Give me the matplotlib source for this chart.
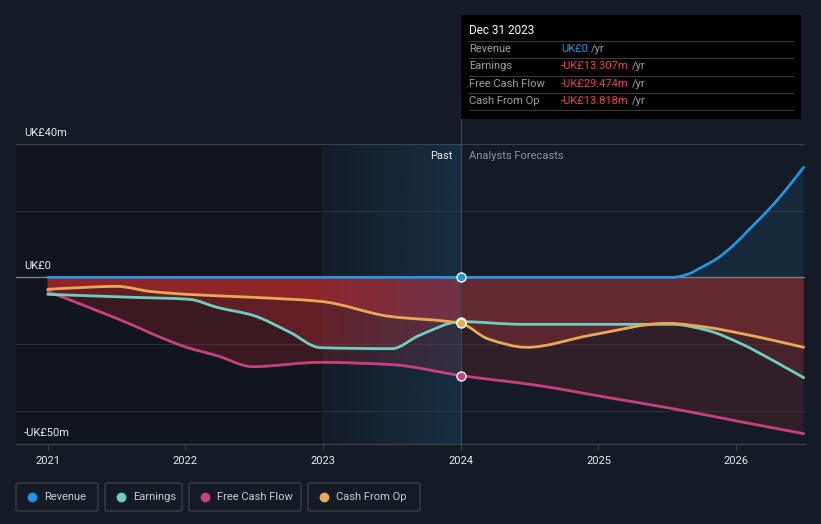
import numpy as np
import matplotlib
matplotlib.use("Agg")
import matplotlib.pyplot as plt
from matplotlib.patches import PathPatch, Rectangle, FancyBboxPatch
from matplotlib.path import Path
from matplotlib.lines import Line2D

plt.rcParams["font.family"] = ["Roboto", "DejaVu Sans"]

# Data (UK£ millions)
rev_x = [2021.0, 2024.0, 2025.54, 2025.66, 2025.73, 2025.86, 2025.98, 2026.10, 2026.22, 2026.34, 2026.49]
rev_y = [0.0, 0.0, 0.0, 1.1, 2.6, 5.6, 9.6, 14.6, 19.6, 25.2, 33.0]

earn_x = [2021.0, 2021.62, 2022.03, 2022.23, 2022.49, 2022.76, 2022.98, 2023.5, 2023.7, 2024.0,
          2024.45, 2025.54, 2025.79, 2026.03, 2026.27, 2026.49]
earn_y = [-5.1, -6.0, -6.6, -9.0, -11.4, -16.5, -21.1, -21.4, -17.4, -13.3,
          -14.1, -14.1, -15.9, -19.8, -25.0, -30.1]

fcf_x = [2021.0, 2021.5, 2022.01, 2022.23, 2022.49, 2022.98, 2023.5, 2024.0,
         2024.57, 2025.06, 2025.54, 2026.03, 2026.49]
fcf_y = [-4.2, -12.3, -21.0, -23.5, -26.8, -25.5, -26.2, -29.474,
         -32.5, -36.0, -39.4, -43.3, -46.9]

cfo_x = [2021.0, 2021.28, 2021.5, 2021.74, 2022.01, 2022.49, 2022.98, 2023.48, 2024.0,
         2024.2, 2024.48, 2024.94, 2025.5, 2025.79, 2026.03, 2026.27, 2026.49]
cfo_y = [-3.6, -3.0, -2.7, -4.2, -5.1, -6.0, -7.2, -11.7, -13.818,
         -18.5, -21.0, -17.4, -13.8, -15.0, -16.8, -18.9, -21.0]

years = [2021, 2022, 2023, 2024, 2025, 2026]
series_names = ["Revenue", "Earnings", "Free Cash Flow", "Cash From Op"]
tooltip_vals = ["UK£0", "-UK£13.307m", "-UK£29.474m", "-UK£13.818m"]

BG = "#151b24"
C_REV = "#2394df"
C_EARN = "#6fcfbf"
C_FCF = "#c8407f"
C_CFO = "#e8a855"


# smooth curve through the points as cubic Bezier segments (monotone tangents)
def smooth_path(xs, ys, close_to_zero=False):
    x = np.asarray(xs, float)
    y = np.asarray(ys, float)
    h = np.diff(x)
    d = np.diff(y) / h
    m = np.zeros_like(y)
    m[0], m[-1] = d[0], d[-1]
    for i in range(1, len(y) - 1):
        if d[i - 1] * d[i] > 0:
            w1 = 2 * h[i] + h[i - 1]
            w2 = h[i] + 2 * h[i - 1]
            m[i] = (w1 + w2) / (w1 / d[i - 1] + w2 / d[i])
    verts = [(x[0], y[0])]
    codes = [Path.MOVETO]
    for i in range(len(x) - 1):
        verts += [(x[i] + h[i] / 3, y[i] + m[i] * h[i] / 3),
                  (x[i + 1] - h[i] / 3, y[i + 1] - m[i + 1] * h[i] / 3),
                  (x[i + 1], y[i + 1])]
        codes += [Path.CURVE4] * 3
    if close_to_zero:
        verts += [(x[-1], 0), (x[0], 0), (x[0], y[0])]
        codes += [Path.LINETO, Path.LINETO, Path.CLOSEPOLY]
    return Path(verts, codes)


fig = plt.figure(figsize=(8.21, 5.24), dpi=100, facecolor=BG)
ax = fig.add_axes([16 / 821, 80 / 524, 789 / 821, 300 / 524])
ax.set_facecolor(BG)
XMIN, XMAX = 2020.77, 2026.5

# darker past background
ax.axvspan(XMIN, 2023, color="#11151c", zorder=0, lw=0)
ax.axvline(2023, color="#1f2631", lw=0.8, zorder=0.4)

# red fills between zero and each negative series (layered)
N = 600
gx = np.linspace(XMIN, XMAX, N)
rgb = np.where((gx < 2024)[:, None], np.array([172, 40, 45]) / 255, np.array([118, 45, 52]) / 255)
for sx, sy, a in [(fcf_x, fcf_y, 0.27), (earn_x, earn_y, 0.35), (cfo_x, cfo_y, 0.62)]:
    img = np.zeros((1, N, 4))
    img[0, :, :3] = rgb
    img[0, :, 3] = a
    poly = PathPatch(smooth_path(sx, sy, True), facecolor="none", edgecolor="none", transform=ax.transData)
    ax.add_patch(poly)
    im = ax.imshow(img, extent=[XMIN, XMAX, -50, 40], aspect="auto", interpolation="nearest", zorder=1)
    im.set_clip_path(poly)

# revenue fill
ax.add_patch(PathPatch(smooth_path(rev_x, rev_y, True), facecolor=C_REV, alpha=0.12, lw=0, zorder=1))

# blue highlight 2023-2024 (gradient)
hl = np.zeros((1, 200, 4))
hl[0, :, :3] = np.array([30, 90, 140]) / 255
hl[0, :, 3] = np.linspace(0.03, 0.3, 200)
ax.imshow(hl, extent=[2023, 2024, -50, 40], aspect="auto", zorder=2)
ax.set_xlim(XMIN, XMAX)
ax.set_ylim(-50, 40)

# gridlines
for g in [-40, -20, 20]:
    ax.axhline(g, color="#2a2f38", lw=0.8, zorder=0.5)
ax.axhline(40, color="#3a3f48", lw=0.9, zorder=0.5)
ax.axhline(0, color="#7d8084", lw=1.0, zorder=2.5)

# lines
lw = 2.0
for sx, sy, c, z in [(fcf_x, fcf_y, C_FCF, 4), (earn_x, earn_y, C_EARN, 4),
                     (cfo_x, cfo_y, C_CFO, 4), (rev_x, rev_y, C_REV, 5)]:
    ax.add_patch(PathPatch(smooth_path(sx, sy), facecolor="none", edgecolor=c, lw=lw,
                           capstyle="round", joinstyle="round", zorder=z))

# markers at Dec 2023
for sx, sy, c in [(rev_x, rev_y, C_REV), (earn_x, earn_y, C_EARN), (fcf_x, fcf_y, C_FCF), (cfo_x, cfo_y, C_CFO)]:
    i = sx.index(2024.0)
    ax.plot(sx[i], sy[i], "o", ms=6.5, mfc=c, mec="white", mew=1.0, zorder=6)

# vertical marker line extending up to tooltip
ax.plot([2024, 2024], [-50, 54.5], color="#2e4a66", lw=0.9, zorder=3, clip_on=False)

# axis styling
for s in ["top", "right", "left"]:
    ax.spines[s].set_visible(False)
ax.spines["bottom"].set_color("#3a404a")
ax.spines["bottom"].set_linewidth(1.0)
ax.set_yticks([])
ax.set_xticks(years)
ax.set_xticklabels([str(y) for y in years])
ax.tick_params(axis="x", colors="#3a404a", length=4, width=0.8, labelcolor="#e8eaed", labelsize=8, pad=5)

# y labels
for v, t in [(40, "UK£40m"), (0, "UK£0"), (-50, "-UK£50m")]:
    ax.text(2020.83, v + 1.9, t, color="#e8eaed", fontsize=8, va="bottom", ha="left", zorder=7)

ax.text(2023.94, 36.5, "Past", color="#e8eaed", fontsize=8, ha="right", va="center", zorder=7)
ax.text(2024.06, 36.5, "Analysts Forecasts", color="#8c929a", fontsize=8, ha="left", va="center", zorder=7)

# tooltip
W, H = 821, 524
def fx(px):
    return px / W
def fy(py):
    return 1 - py / H

fig.patches.append(Rectangle((fx(461), fy(119)), fx(801) - fx(461), fy(15) - fy(119),
                             transform=fig.transFigure, facecolor="#000000", edgecolor="none", zorder=10))
fig.text(fx(469), fy(31), "Dec 31 2023", color="white", fontsize=8.5, va="center", ha="left", zorder=11)
row_y = [49, 66, 84, 101]
fig.canvas.draw()
for k, (name, val) in enumerate(zip(series_names, tooltip_vals)):
    yy = row_y[k]
    fig.lines.append(Line2D([fx(469), fx(793)], [fy(yy - 8.5), fy(yy - 8.5)], transform=fig.transFigure,
                            color="#3a3a3a", lw=0.8, zorder=11))
    fig.text(fx(469), fy(yy), name, color="#9aa0a6", fontsize=8, va="center", ha="left", zorder=11)
    vc = C_REV if k == 0 else "#e8454a"
    t = fig.text(fx(561), fy(yy), val, color=vc, fontsize=8, va="center", ha="left", zorder=11)
    bb = t.get_window_extent(renderer=fig.canvas.get_renderer())
    fig.text(bb.x1 / (fig.dpi * fig.get_figwidth()) + 0.004, fy(yy), "/yr", color="#9aa0a6",
             fontsize=8, va="center", ha="left", zorder=11)
fig.lines.append(Line2D([fx(469), fx(793)], [fy(110), fy(110)], transform=fig.transFigure,
                        color="#3a3a3a", lw=0.8, zorder=11))

# legend boxes
boxes = [(16, 98), (105, 182), (189, 301), (308, 420)]
colors = [C_REV, C_EARN, C_FCF, C_CFO]
for (x0, x1), name, c in zip(boxes, series_names, colors):
    fig.patches.append(FancyBboxPatch((fx(x0), fy(511)), fx(x1) - fx(x0), fy(483) - fy(511),
                                      boxstyle="round,pad=0,rounding_size=0.003", transform=fig.transFigure,
                                      facecolor="none", edgecolor="#3a404a", lw=1.0, zorder=10))
    fig.lines.append(Line2D([fx(x0 + 16)], [fy(497)], marker="o", ms=6, color=c, mec=c,
                            transform=fig.transFigure, zorder=11))
    fig.text(fx(x0 + 28), fy(497), name, color="#c8ccd0", fontsize=8, va="center", ha="left", zorder=11)

fig.savefig("out.png", dpi=100, facecolor=BG)
